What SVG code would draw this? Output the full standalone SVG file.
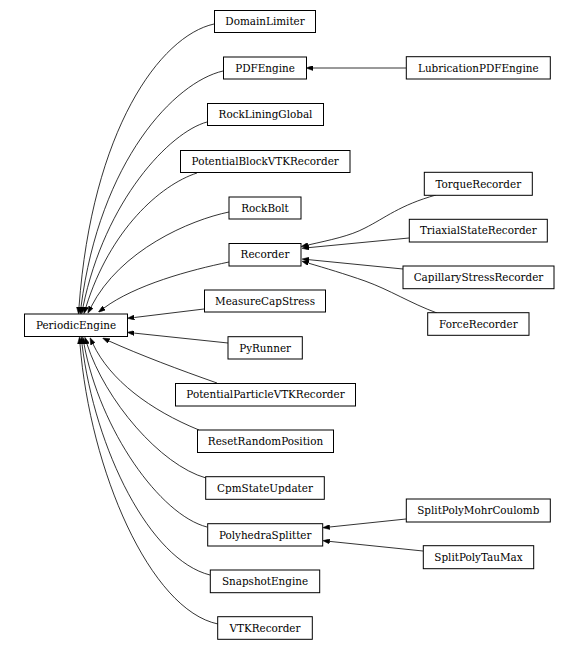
<svg xmlns="http://www.w3.org/2000/svg" width="578" height="650" viewBox="0 0 578 650">
<style>
.n rect{fill:#fff;stroke:#000;stroke-width:1}
.n text{font-family:"DejaVu Serif","Liberation Serif",serif;font-size:10.4px;text-anchor:middle;fill:#000}
.e path{fill:none;stroke:#000;stroke-width:0.8;marker-end:url(#ah)}
</style>
<defs>
<marker id="ah" viewBox="0 0 7 5" refX="0" refY="2.5" markerWidth="7" markerHeight="5" markerUnits="userSpaceOnUse" orient="auto">
<path d="M0,0 L7,2.5 L0,5 z" fill="#000" stroke="#000" stroke-width="0.5"/>
</marker>
</defs>
<rect width="578" height="650" fill="#fff"/>
<g id="edges" class="e">
<path d="M214,24 C160,36 92,130 79,307"/>
<path d="M223,71 C175,82 100,160 81,307"/>
<path d="M207,122 C170,132 105,200 83,307"/>
<path d="M197,173 C160,185 110,230 86,307"/>
<path d="M229,212 C190,220 120,250 91,307"/>
<path d="M229,262 C190,270 135,285 104,308"/>
<path d="M204,309 L134.3,317.5"/>
<path d="M228,343 L134.2,333.1"/>
<path d="M217,383 C180,370 140,355 109,341"/>
<path d="M199,430 C150,410 110,380 93,344"/>
<path d="M206,478 C160,465 105,400 87,344"/>
<path d="M207,527 C160,515 100,430 84,344"/>
<path d="M210,575 C150,560 95,450 82,344"/>
<path d="M218,624 C150,610 90,470 80,344"/>
<path d="M406,68 L313,68"/>
<path d="M436,195 C400,205 385,218 365,228 C350,236 330,240 308,245"/>
<path d="M409,238 L309,247.6"/>
<path d="M403,269 L309,259.7"/>
<path d="M437,313 C410,303 390,290 365,281 C345,274 325,268 308.6,263.2"/>
<path d="M406,519 L329.7,527"/>
<path d="M423,551 L329.7,541.4"/>
</g>
<g id="DomainLimiter" class="n"><rect x="214.5" y="10.5" width="101" height="22"/><text x="265" y="25.2">DomainLimiter</text></g>
<g id="PDFEngine" class="n"><rect x="223.5" y="57" width="83" height="22"/><text x="265" y="71.7">PDFEngine</text></g>
<g id="RockLiningGlobal" class="n"><rect x="207.5" y="103.5" width="116" height="22"/><text x="265.5" y="118.2">RockLiningGlobal</text></g>
<g id="PotentialBlockVTKRecorder" class="n"><rect x="180.5" y="150.5" width="169.5" height="22"/><text x="265.2" y="165.2">PotentialBlockVTKRecorder</text></g>
<g id="RockBolt" class="n"><rect x="229" y="197" width="72" height="22"/><text x="265" y="211.7">RockBolt</text></g>
<g id="Recorder" class="n"><rect x="229" y="243.5" width="72" height="22.5"/><text x="265" y="258.4">Recorder</text></g>
<g id="MeasureCapStress" class="n"><rect x="204.5" y="290" width="121" height="22"/><text x="265" y="304.7">MeasureCapStress</text></g>
<g id="PeriodicEngine" class="n"><rect x="24.5" y="314" width="103" height="22.5"/><text x="76" y="329">PeriodicEngine</text></g>
<g id="PyRunner" class="n"><rect x="228" y="336.7" width="74.3" height="22.3"/><text x="265.1" y="351.5">PyRunner</text></g>
<g id="PotentialParticleVTKRecorder" class="n"><rect x="175.5" y="383.5" width="180" height="22.5"/><text x="265.5" y="398.4">PotentialParticleVTKRecorder</text></g>
<g id="ResetRandomPosition" class="n"><rect x="197.5" y="430" width="136" height="22.5"/><text x="265.5" y="445">ResetRandomPosition</text></g>
<g id="CpmStateUpdater" class="n"><rect x="205.7" y="476.7" width="118.6" height="22.6"/><text x="265" y="491.7">CpmStateUpdater</text></g>
<g id="PolyhedraSplitter" class="n"><rect x="207.7" y="523.7" width="115" height="22.3"/><text x="265.2" y="538.5">PolyhedraSplitter</text></g>
<g id="SnapshotEngine" class="n"><rect x="210.3" y="570" width="109.4" height="22.7"/><text x="265" y="585">SnapshotEngine</text></g>
<g id="VTKRecorder" class="n"><rect x="217.7" y="616.7" width="94.6" height="22.6"/><text x="265" y="631.7">VTKRecorder</text></g>
<g id="LubricationPDFEngine" class="n"><rect x="406.3" y="56.7" width="144" height="22.3"/><text x="478.3" y="71.5">LubricationPDFEngine</text></g>
<g id="TorqueRecorder" class="n"><rect x="424.3" y="172.3" width="108" height="23"/><text x="478.3" y="187.5">TorqueRecorder</text></g>
<g id="TriaxialStateRecorder" class="n"><rect x="409.3" y="219.3" width="138" height="22.7"/><text x="478.3" y="234.4">TriaxialStateRecorder</text></g>
<g id="CapillaryStressRecorder" class="n"><rect x="403" y="266" width="151" height="22.7"/><text x="478.5" y="281">CapillaryStressRecorder</text></g>
<g id="ForceRecorder" class="n"><rect x="427.7" y="312.7" width="101.3" height="22.6"/><text x="478.3" y="327.7">ForceRecorder</text></g>
<g id="SplitPolyMohrCoulomb" class="n"><rect x="406.3" y="499" width="144" height="23"/><text x="478.3" y="514.2">SplitPolyMohrCoulomb</text></g>
<g id="SplitPolyTauMax" class="n"><rect x="423.3" y="545.7" width="110.4" height="23"/><text x="478.5" y="560.9">SplitPolyTauMax</text></g>
</svg>
